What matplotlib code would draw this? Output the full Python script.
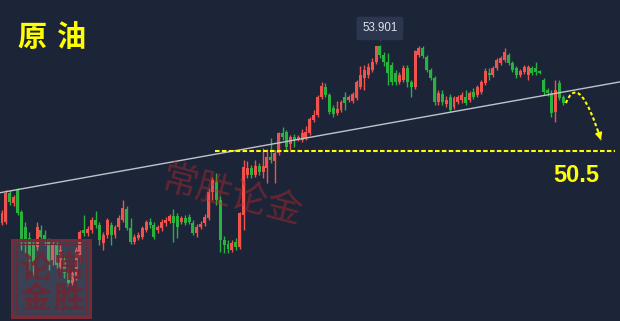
import matplotlib
matplotlib.use("Agg")
import matplotlib.pyplot as plt
import numpy as np
from matplotlib.path import Path
from matplotlib.patches import PathPatch, Rectangle

# candle data (price units)
opens = [48.19, 48.22, 49.16, 48.83, 49.25, 48.55, 48.06, 47.71, 47.49, 47.42,
         47.97, 47.81, 47.65, 47.00, 47.49, 46.78, 47.00, 46.59, 46.27, 46.46,
         47.07, 47.97, 47.87, 47.97, 48.29, 48.13, 47.55, 47.81, 48.13, 47.81,
         48.06, 48.29, 48.64, 48.03, 47.58, 47.71, 47.74, 47.97, 48.22, 48.13,
         47.97, 48.03, 48.19, 48.26, 48.42, 48.42, 48.22, 48.35, 48.38, 48.19,
         47.87, 48.06, 48.19, 48.35, 49.19, 49.51, 48.93, 47.65, 47.52, 47.33,
         47.58, 47.42, 48.45, 49.73, 49.96, 49.73, 50.02, 49.83, 49.96, 50.31,
         50.18, 50.44, 51.08, 51.11, 50.73, 50.95, 50.89, 50.86, 50.92, 51.08,
         51.50, 51.66, 52.24, 52.56, 52.30, 51.88, 51.72, 51.82, 52.24, 52.14,
         52.11, 52.20, 52.56, 52.85, 52.94, 53.10, 53.36, 53.86, 53.58, 53.36,
         53.26, 53.00, 52.72, 52.78, 53.17, 52.72, 52.56, 53.58, 53.81, 53.52,
         53.10, 52.85, 52.08, 52.33, 52.01, 52.24, 51.92, 52.08, 52.14, 52.24,
         52.14, 52.40, 52.30, 52.40, 52.69, 53.00, 52.94, 53.17, 53.33, 53.42,
         53.58, 53.33, 53.17, 52.94, 53.04, 52.94, 53.17, 53.17, 53.07, 52.78,
         52.46, 52.36, 51.75, 52.69, 52.24]
highs = [48.61, 49.25, 49.25, 49.09, 49.32, 48.61, 48.22, 47.90, 47.65, 48.22,
         48.13, 47.97, 47.71, 47.65, 47.58, 47.49, 47.17, 46.75, 46.68, 47.42,
         47.97, 48.45, 48.10, 48.38, 48.58, 48.22, 47.90, 48.35, 48.22, 48.13,
         48.45, 48.93, 48.74, 48.35, 47.84, 47.90, 48.10, 48.29, 48.35, 48.22,
         48.13, 48.32, 48.38, 48.48, 48.64, 48.51, 48.42, 48.45, 48.48, 48.29,
         48.16, 48.26, 48.48, 49.32, 49.67, 49.80, 49.06, 47.77, 47.65, 47.65,
         47.71, 48.55, 50.21, 50.18, 50.05, 50.21, 50.12, 50.60, 50.57, 50.92,
         50.53, 51.11, 51.27, 51.18, 51.02, 51.05, 51.02, 51.21, 51.31, 51.59,
         51.82, 52.30, 52.72, 52.69, 52.36, 51.98, 52.11, 52.14, 52.40, 52.30,
         52.40, 52.78, 53.23, 53.26, 53.33, 53.49, 53.88, 53.901, 53.68, 53.65,
         53.36, 53.10, 53.04, 53.26, 53.26, 52.78, 53.74, 53.87, 53.87, 53.58,
         53.17, 52.91, 52.46, 52.46, 52.27, 52.33, 52.27, 52.30, 52.40, 52.46,
         52.43, 52.52, 52.62, 52.78, 53.17, 53.17, 53.23, 53.49, 53.55, 53.81,
         53.65, 53.39, 53.23, 53.13, 53.26, 53.26, 53.23, 53.36, 53.10, 52.85,
         52.52, 52.46, 52.78, 52.78, 52.30]
lows = [48.13, 48.16, 48.77, 48.74, 48.45, 47.33, 47.17, 46.68, 46.52, 47.33,
        47.65, 47.49, 46.68, 46.84, 46.75, 46.62, 46.43, 46.14, 46.20, 46.36,
        46.94, 47.77, 47.77, 47.87, 48.03, 47.49, 47.33, 47.71, 47.49, 47.71,
        47.97, 48.22, 47.97, 47.52, 47.52, 47.65, 47.68, 47.90, 48.03, 47.68,
        47.87, 47.93, 48.10, 48.19, 47.58, 47.71, 48.16, 48.13, 48.16, 47.81,
        47.74, 48.00, 48.10, 48.29, 48.93, 48.77, 47.26, 47.23, 47.23, 47.26,
        47.33, 47.36, 47.97, 49.64, 49.64, 49.67, 49.73, 49.64, 49.48, 50.12,
        49.48, 50.37, 50.86, 50.53, 50.53, 50.63, 50.82, 50.79, 50.86, 51.02,
        51.43, 51.59, 52.17, 52.24, 51.69, 51.59, 51.66, 51.75, 51.82, 52.08,
        52.04, 52.14, 52.49, 52.46, 52.85, 53.04, 53.30, 53.49, 53.23, 52.62,
        52.62, 52.62, 52.65, 52.72, 52.56, 52.24, 52.49, 53.52, 53.49, 53.04,
        52.78, 51.98, 51.98, 51.98, 51.92, 51.75, 51.85, 52.01, 52.04, 51.98,
        52.08, 52.17, 52.24, 52.33, 52.62, 52.78, 52.88, 53.10, 53.26, 53.36,
        53.26, 53.04, 52.85, 52.88, 52.97, 52.78, 52.94, 52.94, 52.97, 52.30,
        52.27, 51.59, 51.43, 52.14, 51.98]
closes = [48.51, 49.16, 48.87, 49.03, 48.51, 47.65, 47.58, 47.07, 46.94, 48.06,
          47.74, 47.58, 46.94, 47.49, 46.84, 47.33, 46.59, 46.27, 46.59, 47.33,
          47.90, 47.87, 48.00, 48.29, 48.13, 47.65, 47.81, 48.29, 47.81, 48.06,
          48.35, 48.67, 48.03, 47.58, 47.74, 47.81, 48.03, 48.22, 48.13, 47.74,
          48.06, 48.22, 48.29, 48.42, 48.19, 48.06, 48.35, 48.19, 48.22, 47.87,
          48.06, 48.16, 48.38, 49.19, 49.57, 48.93, 47.65, 47.49, 47.36, 47.55,
          47.42, 48.51, 49.99, 49.96, 49.73, 50.02, 49.83, 50.02, 50.31, 50.21,
          50.44, 51.08, 50.95, 50.63, 50.95, 50.86, 50.95, 51.08, 51.11, 51.53,
          51.66, 52.24, 52.59, 52.30, 51.75, 51.69, 51.85, 52.08, 52.04, 52.24,
          52.33, 52.72, 52.94, 53.10, 53.20, 53.36, 53.87, 53.58, 53.36, 53.00,
          52.72, 52.72, 52.94, 53.17, 52.72, 52.56, 53.71, 53.81, 53.55, 53.10,
          52.85, 52.08, 52.36, 52.08, 52.14, 51.82, 52.20, 52.24, 52.30, 52.04,
          52.36, 52.24, 52.56, 52.72, 53.07, 52.94, 53.17, 53.42, 53.49, 53.68,
          53.33, 53.10, 52.94, 53.07, 53.20, 53.20, 53.00, 53.04, 53.00, 52.40,
          52.36, 51.72, 52.46, 52.20, 52.04]

title = "原油"
support_level = 50.5
support_label = "50.5"
trend_x = [-0.51, 158.6]
trend_y = [49.16, 52.72]
support_x = [54.7, 157.3]
# forecast arrow: start, control, end (candle index, price)
arrow_pts = [(144.7, 52.04), (148.1, 53.10), (153.7, 50.85)]
watermark = "常胜论金"
seal_chars = ["论", "常", "金", "胜"]

bg = "#1c2438"
up_col = "#f0524d"
dn_col = "#28b23e"
yellow = "#ffff00"

fig = plt.figure(figsize=(6.2, 3.21), dpi=100)
fig.patch.set_facecolor(bg)
ax = fig.add_axes([0, 0, 1, 1])
ax.set_facecolor(bg)
ax.set_xlim(-0.51, 158.6)
ax.set_ylim(45.04, 55.35)
ax.axis("off")

o = np.array(opens)
h = np.array(highs)
l = np.array(lows)
c = np.array(closes)
idx = np.arange(len(o))
cols = np.where(c >= o, up_col, dn_col)

ax.vlines(idx, l, h, colors=cols, lw=1.0, zorder=3)
body = np.maximum(np.abs(c - o), 0.04)
ax.bar(idx, body, bottom=np.minimum(o, c), width=0.76, color=cols,
       linewidth=0, zorder=4)

# trend line and support line
ax.plot(trend_x, trend_y, color="#bfc3cc", lw=1.0, zorder=5)
ax.plot(support_x, [support_level] * 2, color=yellow, lw=1.5,
        ls=(0, (2.2, 1.1)), zorder=5)
ax.text(147.3, 49.70, support_label, color=yellow, fontsize=17,
        fontweight="bold", family="Liberation Sans", ha="center", va="center",
        zorder=6)

# high label
imax = int(np.argmax(h))
ax.annotate(f"{h[imax]:.3f}", xy=(imax, h[imax]), xytext=(0, 12),
            textcoords="offset points", ha="center", va="center",
            color="#dde1ea", fontsize=8.3, family="Liberation Sans",
            bbox=dict(boxstyle="round,pad=0.5,rounding_size=0.2",
                      fc="#2c364e", ec="none"), zorder=6)
ax.plot([imax], [h[imax] + 0.22], marker="v", ms=6, color="#2c364e",
        mec="none", zorder=6)

# dashed forecast arrow
curve = Path(arrow_pts, [Path.MOVETO, Path.CURVE3, Path.CURVE3])
ax.add_patch(PathPatch(curve, fill=False, ec=yellow, lw=1.5,
                       ls=(0, (1.6, 1.2)), zorder=6))
p1 = np.array(arrow_pts[1])
p2 = np.array(arrow_pts[2])
ax.annotate("", xy=p2, xytext=p2 - 0.12 * (p2 - p1),
            arrowprops=dict(arrowstyle="-|>", color=yellow, lw=1.2,
                            mutation_scale=10, shrinkA=0, shrinkB=0), zorder=7)

# title
cjk = ["Noto Sans CJK SC", "DejaVu Sans"]
ax.text(0.052, 0.885, title[0], transform=ax.transAxes, color=yellow,
        fontsize=21, fontweight="bold", family=cjk, ha="center", va="center")
ax.text(0.116, 0.885, title[1], transform=ax.transAxes, color=yellow,
        fontsize=21, fontweight="bold", family=cjk, ha="center", va="center")

# watermark
ax.text(0.375, 0.39, watermark, transform=ax.transAxes, color="#c42a2a",
        alpha=0.42, fontsize=26, family=cjk, rotation=-14.5, ha="center",
        va="center", zorder=8)

# seal in bottom-left corner
ax.add_patch(Rectangle((0.0194, 0.0125), 0.1258, 0.2395, transform=ax.transAxes,
                       fc="#8c8fa0", alpha=0.28, ec="none", zorder=8))
ax.add_patch(Rectangle((0.0194, 0.0125), 0.1258, 0.2395, transform=ax.transAxes,
                       fc="none", ec="#7a2a35", lw=2.2, zorder=9))
ax.add_patch(Rectangle((0.026, 0.025), 0.1126, 0.2145, transform=ax.transAxes,
                       fc="none", ec="#6a2a35", lw=0.8, zorder=9))
seal_pos = [(0.057, 0.165), (0.111, 0.165), (0.057, 0.07), (0.111, 0.07)]
for ch, (sx, sy) in zip(seal_chars, seal_pos):
    ax.text(sx, sy, ch, transform=ax.transAxes, color="#6e2530", alpha=0.85,
            fontsize=22, fontweight="bold", family=cjk, ha="center",
            va="center", zorder=9)

fig.savefig("out.png", dpi=100, facecolor=bg)
